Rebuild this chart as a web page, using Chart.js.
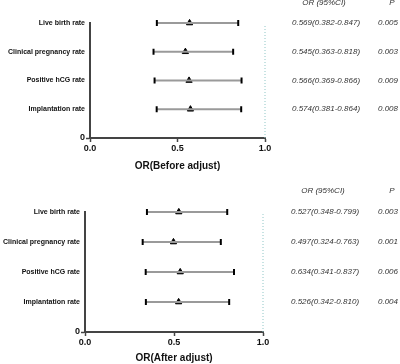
<!DOCTYPE html>
<html>
<head>
<meta charset="utf-8">
<script src="https://cdn.jsdelivr.net/npm/chart.js@4/dist/chart.umd.min.js"></script>
<style>
  html,body{margin:0;padding:0;background:#fff;}
  #wrap{position:relative;width:400px;height:364px;}
  canvas{position:absolute;left:0;}
</style>
</head>
<body>
<div id="wrap">
  <canvas id="c1" width="400" height="182" style="top:0"></canvas>
  <canvas id="c2" width="400" height="182" style="top:182px"></canvas>
</div>
<script>
// ---- data ----
const categories = ['Live birth rate', 'Clinical pregnancy rate', 'Positive hCG rate', 'Implantation rate'];
const rowPositions = [4, 3, 2, 1];
const xTicks = [0, 0.5, 1.0];

const beforeOR    = [0.569, 0.545, 0.566, 0.574];
const beforeLower = [0.382, 0.363, 0.369, 0.381];
const beforeUpper = [0.847, 0.818, 0.866, 0.864];
const beforeP     = ['0.005', '0.003', '0.009', '0.008'];
const beforeMarker = [0.569, 0.545, 0.566, 0.574];

const afterOR    = [0.527, 0.497, 0.634, 0.526];
const afterLower = [0.348, 0.324, 0.341, 0.342];
const afterUpper = [0.799, 0.763, 0.837, 0.810];
const afterP     = ['0.003', '0.001', '0.006', '0.004'];
const afterMarker = [0.527, 0.497, 0.535, 0.526]; // marker position as drawn in the picture

const FONT = '"Liberation Sans", Arial, sans-serif';

function makeChart(id, opt) {
  const datasets = [];
  categories.forEach((c, i) => {
    datasets.push({
      type: 'line',
      data: [{x: opt.lower[i], y: rowPositions[i]}, {x: opt.upper[i], y: rowPositions[i]}],
      borderColor: '#9a9a9a', borderWidth: 2,
      pointStyle: 'line', rotation: 90, pointRadius: 3,
      pointBorderColor: '#000', pointBorderWidth: 2, pointBackgroundColor: '#000',
      clip: false
    });
  });
  datasets.push({
    type: 'scatter',
    data: categories.map((c, i) => ({x: opt.marker[i], y: rowPositions[i]})),
    pointStyle: 'triangle', pointRadius: 3.6,
    backgroundColor: '#000', borderColor: '#000', borderWidth: 1,
    clip: false
  });
  datasets.push({
    type: 'line',
    data: [{x: 1, y: 0}, {x: 1, y: 3.93}],
    borderColor: '#8fc6c6', borderWidth: 1, borderDash: [1, 2],
    pointRadius: 0, clip: false
  });

  const textPlugin = {
    id: 'sidetext',
    afterDraw(chart) {
      const ctx = chart.ctx;
      const ys = chart.scales.y;
      ctx.save();
      ctx.fillStyle = '#333';
      ctx.font = 'italic 8px ' + FONT;
      ctx.textBaseline = 'middle';
      const hy = ys.getPixelForValue(4.7);
      ctx.textAlign = 'center';
      ctx.fillText('OR (95%CI)', opt.hx, hy);
      ctx.fillText('P', opt.px + 14, hy);
      ctx.textAlign = 'left';
      categories.forEach((c, i) => {
        const y = ys.getPixelForValue(rowPositions[i]);
        const s = opt.or[i].toFixed(3) + '(' + opt.lower[i].toFixed(3) + '-' + opt.upper[i].toFixed(3) + ')';
        ctx.fillText(s, opt.tx, y);
        ctx.fillText(opt.p[i], opt.px, y);
      });
      ctx.restore();
    }
  };

  return new Chart(document.getElementById(id), {
    data: {datasets},
    plugins: [textPlugin],
    options: {
      responsive: false, animation: false, devicePixelRatio: 1,
      layout: {padding: {left: 0, right: opt.padRight, top: opt.padTop, bottom: opt.padBottom}},
      plugins: {legend: {display: false}, tooltip: {enabled: false}},
      scales: {
        x: {
          type: 'linear', min: 0, max: 1,
          afterBuildTicks: s => { s.ticks = xTicks.map(v => ({value: v})); },
          afterFit: s => { s.height = opt.xh; },
          border: {display: true, color: '#444', width: 2},
          grid: {drawOnChartArea: false, drawTicks: true, tickLength: 4, tickColor: '#444', tickWidth: 1.5},
          ticks: {color: '#111', font: {family: FONT, size: 9, weight: 'bold'}, padding: 1,
                  callback: v => v.toFixed(1), maxRotation: 0},
          title: {display: true, text: opt.title, color: '#111',
                  font: {family: FONT, size: 10, weight: 'bold'}, padding: {top: 3, bottom: 0}}
        },
        y: {
          type: 'linear', min: 0, max: 4,
          afterBuildTicks: s => { s.ticks = [0].concat(rowPositions).map(v => ({value: v})); },
          afterFit: s => { s.width = opt.yw; },
          border: {display: true, color: '#444', width: 2},
          grid: {drawOnChartArea: false, drawTicks: true, tickLength: 4,
                 tickColor: c => (c.tick && c.tick.value === 0) ? '#444' : 'rgba(0,0,0,0)', tickWidth: 1.5},
          ticks: {
            color: '#111', padding: 1,
            font: c => (c.tick && c.tick.value === 0)
              ? {family: FONT, size: 9, weight: 'bold'}
              : {family: FONT, size: 7, weight: 'bold'},
            callback: v => v === 0 ? '0' : categories[rowPositions.indexOf(v)]
          }
        }
      }
    }
  });
}

makeChart('c1', {
  lower: beforeLower, upper: beforeUpper, marker: beforeMarker, or: beforeOR, p: beforeP,
  title: 'OR(Before adjust)', padRight: 135, padTop: 23, padBottom: 10, xh: 34, yw: 90,
  hx: 324, tx: 292, px: 378
});
makeChart('c2', {
  lower: afterLower, upper: afterUpper, marker: afterMarker, or: afterOR, p: afterP,
  title: 'OR(After adjust)', padRight: 137, padTop: 30, padBottom: 0, xh: 32, yw: 85,
  hx: 323, tx: 291, px: 378
});
</script>
</body>
</html>
